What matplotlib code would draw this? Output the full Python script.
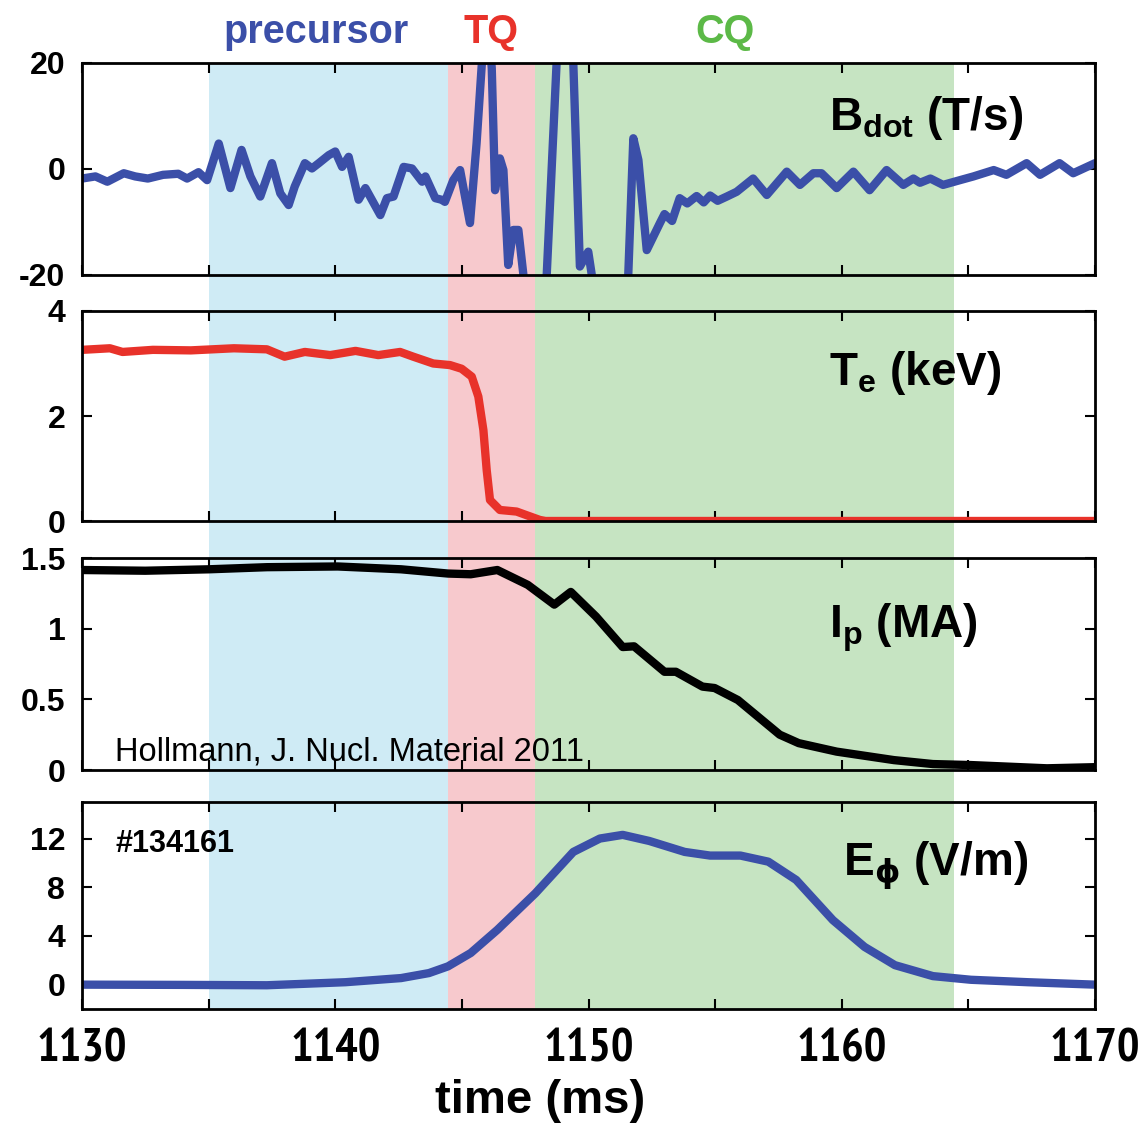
import matplotlib
matplotlib.use('Agg')
import matplotlib.pyplot as plt
from matplotlib import font_manager
from matplotlib.font_manager import FontProperties
from matplotlib.patches import Rectangle
from matplotlib.transforms import blended_transform_factory
from matplotlib.ticker import MultipleLocator, FixedLocator

# phases (ms)
phase_names = ['precursor', 'TQ', 'CQ']
phase_start = [1135.0, 1144.45, 1147.9]
phase_end = [1144.45, 1147.9, 1164.45]
phase_label_x = [1139.25, 1146.15, 1155.4]

# B_dot (T/s), off-scale excursions just run past the axis limits
bdot_t = [1130.0, 1130.53, 1131.0, 1131.65, 1132.1, 1132.6, 1133.2, 1133.8, 1134.15,
          1134.6, 1134.94, 1135.4, 1135.86, 1136.3, 1136.65, 1137.04, 1137.5, 1137.83,
          1138.16, 1138.4, 1138.8, 1139.08, 1139.35, 1139.74, 1140.0, 1140.27, 1140.53,
          1140.92, 1141.19, 1141.78, 1142.04, 1142.3, 1142.7, 1143.03, 1143.43, 1143.56,
          1143.95, 1144.2, 1144.33, 1144.66, 1144.93, 1145.32, 1145.58, 1145.78, 1145.98,
          1146.18, 1146.31, 1146.5, 1146.64, 1146.83, 1147.03, 1147.23, 1147.43, 1147.55,
          1148.25, 1148.35, 1148.74, 1149.07, 1149.4, 1149.66, 1149.99, 1150.13, 1150.25,
          1151.45, 1151.57, 1151.77, 1151.97, 1152.3, 1152.82, 1153.0, 1153.3, 1153.6,
          1153.9, 1154.27, 1154.55, 1154.8, 1155.1, 1155.46, 1155.85, 1156.5, 1157.04,
          1157.83, 1158.35, 1158.88, 1159.2, 1159.8, 1160.46, 1161.1, 1161.77, 1162.43,
          1162.83, 1163.09, 1163.5, 1164.0, 1164.67, 1165.2, 1166.0, 1166.5, 1167.3,
          1167.83, 1168.6, 1169.14, 1170.0]
bdot_v = [-1.8, -1.4, -2.4, -0.8, -1.4, -1.8, -1.1, -0.9, -1.8,
          -0.6, -2.1, 4.8, -3.6, 3.6, -1.4, -5.2, 1.1, -4.6,
          -6.8, -3.3, 1.1, 0.1, 1.1, 2.6, 3.3, 0.4, 2.3,
          -5.8, -3.6, -8.7, -5.5, -5.2, 0.4, 0.1, -2.4, -1.4,
          -5.5, -5.8, -6.2, -2.1, -0.2, -10.2, 4.8, 19.3, 32.0,
          19.0, -4.0, 2.0, -0.2, -18.1, -11.5, -11.5, -20.0, -30.0,
          -30.0, -20.0, 20.0, 70.0, 20.0, -18.4, -15.6, -20.0, -30.0,
          -30.0, -20.0, 5.8, 1.7, -15.3, -10.2, -8.5, -9.8, -5.5,
          -6.5, -5.1, -6.3, -5.0, -6.0, -5.2, -4.3, -1.8, -4.9,
          -0.5, -3.0, -0.8, -0.8, -3.6, -0.5, -4.0, -0.2, -3.0,
          -1.8, -2.6, -1.8, -3.0, -2.1, -1.4, -0.2, -1.1, 1.1,
          -1.1, 1.1, -0.8, 1.1]

# T_e (keV)
te_t = [1130.0, 1131.1, 1131.6, 1132.8, 1134.3, 1136.0, 1137.3, 1138.0, 1138.8,
        1139.8, 1140.8, 1141.7, 1142.56, 1143.08, 1143.87, 1144.53, 1144.99, 1145.39,
        1145.65, 1145.85, 1145.98, 1146.11, 1146.5, 1147.16, 1147.56, 1148.08, 1148.3,
        1150.0, 1160.0, 1170.0]
te_v = [3.26, 3.29, 3.22, 3.26, 3.25, 3.29, 3.27, 3.13, 3.22,
        3.16, 3.24, 3.16, 3.22, 3.13, 3.0, 2.97, 2.9, 2.75,
        2.37, 1.73, 0.97, 0.4, 0.21, 0.18, 0.11, 0.02, 0.0,
        0.0, 0.0, 0.0]

# I_p (MA)
ip_t = [1130.0, 1132.5, 1135.0, 1137.3, 1140.1, 1142.6, 1144.45, 1145.35, 1146.4,
        1147.6, 1148.65, 1149.3, 1150.3, 1151.35, 1151.8, 1153.0, 1153.45, 1154.5,
        1154.98, 1155.9, 1157.55, 1158.3, 1159.8, 1162.06, 1163.6, 1165.1, 1168.1, 1170.0]
ip_v = [1.415, 1.41, 1.42, 1.435, 1.44, 1.42, 1.39, 1.385, 1.415,
        1.31, 1.17, 1.26, 1.085, 0.87, 0.875, 0.695, 0.695, 0.59,
        0.58, 0.495, 0.25, 0.19, 0.13, 0.07, 0.042, 0.035, 0.012, 0.02]

# E_phi (V/m)
ephi_t = [1130.0, 1134.0, 1137.3, 1140.4, 1142.6, 1143.7, 1144.45, 1145.35, 1146.4,
          1147.9, 1149.4, 1150.45, 1151.35, 1152.4, 1153.8, 1154.8, 1156.0, 1157.1,
          1158.2, 1159.65, 1160.9, 1162.1, 1163.6, 1165.1, 1167.35, 1170.0]
ephi_v = [0.0, -0.02, -0.05, 0.2, 0.54, 0.95, 1.5, 2.6, 4.5,
          7.5, 10.9, 12.0, 12.3, 11.8, 10.9, 10.6, 10.6, 10.1,
          8.6, 5.3, 3.1, 1.6, 0.7, 0.4, 0.2, 0.0]

xticks = [1130, 1140, 1150, 1160, 1170]
xtlabels = ['1130', '1140', '1150', '1160', '1170']

panel_labels = [r'B$_{\mathregular{dot}}$ (T/s)', r'T$_{\mathregular{e}}$ (keV)',
                r'I$_{\mathregular{p}}$ (MA)', r'E$_{\mathrm{\phi}}$ (V/m)']

BLUE = '#3b4fa8'
RED = '#e8322a'
GREEN_TXT = '#5cb947'
SHADES = ['#cfebf5', '#f7c9cd', '#c6e4c2']


def weight_num(w):
    if isinstance(w, (int, float)):
        return int(w)
    return font_manager.weight_dict.get(str(w).lower(), 400)


def narrow_bold_font():
    # a bold narrow/condensed face for the tall skinny numbers, if one is installed
    cands = []
    for f in font_manager.fontManager.ttflist:
        nm = f.name.lower()
        if f.style != 'normal':
            continue
        if 'narrow' in nm or 'condensed' in nm or 'condensed' in str(f.stretch).lower():
            w = weight_num(f.weight)
            cands.append(((w < 600, abs(w - 700), 'narrow' not in nm), f.fname))
    if not cands:
        return FontProperties(family='Liberation Sans', weight='bold')
    cands.sort(key=lambda c: c[0])
    return FontProperties(fname=cands[0][1])


plt.rcParams['font.family'] = ['Liberation Sans', 'DejaVu Sans']
plt.rcParams['font.weight'] = 'bold'
plt.rcParams['mathtext.default'] = 'regular'
plt.rcParams['mathtext.fontset'] = 'dejavusans'

narrow_fp = narrow_bold_font()

fig = plt.figure(figsize=(11.47, 11.26), dpi=100)
W, H = 1147.0, 1126.0
left, right = 82 / W, 1095 / W
rows = [(63, 275), (311, 521), (558, 770), (802, 1009)]
axes = []
for top, bot in rows:
    ax = fig.add_axes([left, 1 - bot / H, right - left, (bot - top) / H])
    ax.set_facecolor('none')
    axes.append(ax)

series = [(bdot_t, bdot_v, BLUE), (te_t, te_v, RED), (ip_t, ip_v, 'black'),
          (ephi_t, ephi_v, BLUE)]
ylims = [(-20, 20), (0, 4), (0, 1.5), (-2, 15)]
yticks = [[-20, 0, 20], [0, 2, 4], [0, 0.5, 1, 1.5], [0, 4, 8, 12]]
ytlabels = [['-20', '0', '20'], ['0', '2', '4'], ['0', '0.5', '1', '1.5'],
            ['0', '4', '8', '12']]
label_pos = [(0.737, 0.684), (0.737, 0.648), (0.737, 0.623), (0.751, 0.647)]

for i, ax in enumerate(axes):
    t, v, c = series[i]
    ax.plot(t, v, color=c, lw=6, solid_joinstyle='round', solid_capstyle='round')
    ax.set_xlim(1130, 1170)
    ax.set_ylim(*ylims[i])
    ax.xaxis.set_major_locator(FixedLocator(xticks))
    ax.xaxis.set_minor_locator(MultipleLocator(5))
    ax.set_xticklabels(xtlabels, fontproperties=narrow_fp, fontsize=34)
    ax.yaxis.set_major_locator(FixedLocator(yticks[i]))
    ax.set_yticklabels(ytlabels[i], fontsize=23)
    ax.tick_params(which='both', direction='in', top=True, right=True,
                   length=7, width=1.5)
    ax.tick_params(axis='y', pad=12)
    ax.tick_params(axis='x', pad=14)
    if i < 3:
        ax.tick_params(axis='x', labelbottom=False)
    for s in ax.spines.values():
        s.set_linewidth(2)
    ax.text(label_pos[i][0], label_pos[i][1], panel_labels[i], transform=ax.transAxes,
            fontsize=33, ha='left', va='baseline')

axes[2].text(0.033, 0.047, 'Hollmann, J. Nucl. Material 2011', transform=axes[2].transAxes,
             fontsize=23.5, fontweight='normal', ha='left', va='baseline')
axes[3].text(0.033, 0.758, '#134161', transform=axes[3].transAxes,
             fontsize=22, ha='left', va='baseline')

# phase shading across all panels
trans = blended_transform_factory(axes[0].transData, fig.transFigure)
y0 = 1 - rows[3][1] / H
y1 = 1 - rows[0][0] / H
for x0, x1, col in zip(phase_start, phase_end, SHADES):
    fig.add_artist(Rectangle((x0, y0), x1 - x0, y1 - y0, transform=trans,
                             facecolor=col, edgecolor='none', zorder=-1))

for name, x, col in zip(phase_names, phase_label_x, [BLUE, RED, GREEN_TXT]):
    fig.text(x, 1 - 43 / H, name, transform=trans, color=col, fontsize=28.5,
             ha='center', va='baseline')

fig.text(540 / W, 1 - 1113 / H, 'time (ms)', fontsize=34, ha='center', va='baseline')

fig.savefig('out.png', dpi=100)
